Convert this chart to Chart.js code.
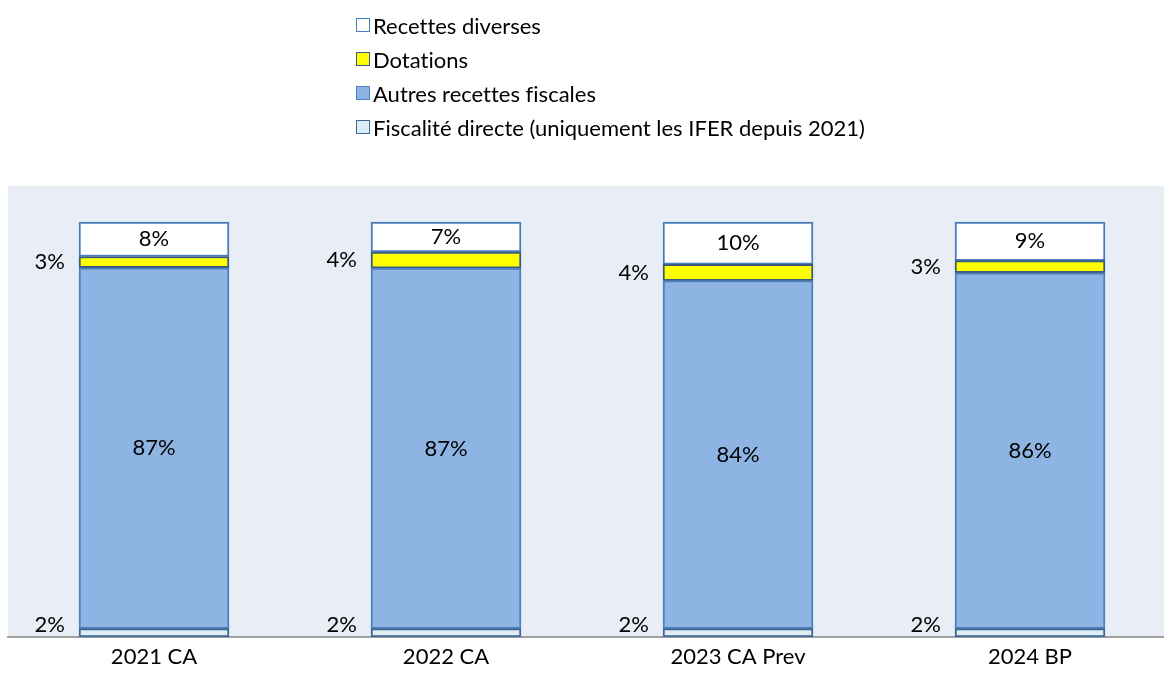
<!DOCTYPE html>
<html>
<head>
<meta charset="utf-8">
<script src="https://cdn.jsdelivr.net/npm/chart.js@4.4.1/dist/chart.umd.min.js"></script>
<style>
    body { margin: 0; overflow: hidden; background: #fff; font-family: Lato, sans-serif; }
    #wrap { position: relative; width: 1180px; height: 682px; }
    #legend { position: absolute; left: 356px; top: 8px; }
    .item { height: 34px; display: flex; align-items: center; font-size: 22px; color: #000;
            font-variant-ligatures: none; }
    .box { width: 12px; height: 12px; border: 1.5px solid; margin-right: 3px; }
</style>
</head>
<body>
<div id="wrap">
    <div id="legend"></div>
    <canvas id="recettesChart" width="1180" height="682"></canvas>
</div>
<script>
const categories = ['2021 CA', '2022 CA', '2023 CA Prev', '2024 BP'];
const fiscaliteDirecte = [2.0, 2.0, 2.0, 2.0];
const autresRecettes = [87.0, 86.9, 83.9, 85.8];
const dotations = [2.7, 3.9, 3.9, 2.9];
const recettesDiverses = [8.3, 7.2, 10.2, 9.3];

const font = { family: 'Lato, sans-serif', size: 22 };

// fond de la zone de tracé
const plotBackground = {
    id: 'plotBackground',
    beforeDraw: (chart) => {
        const { ctx, chartArea } = chart;
        ctx.save();
        ctx.fillStyle = '#E9EDF5';
        ctx.fillRect(chartArea.left, chartArea.top, chartArea.right - chartArea.left, chartArea.bottom - chartArea.top);
        ctx.restore();
    }
};

// étiquettes en % : dans la barre si assez grand, sinon à gauche
const segmentLabels = {
    id: 'segmentLabels',
    afterDatasetsDraw: (chart) => {
        const { ctx, chartArea } = chart;
        ctx.save();
        ctx.font = font.size + 'px ' + font.family;
        ctx.fillStyle = '#000';
        ctx.textBaseline = 'middle';
        chart.data.datasets.forEach((ds, i) => {
            chart.getDatasetMeta(i).data.forEach((bar, j) => {
                const value = ds.data[j];
                const text = Math.round(value) + '%';
                let y = (bar.y + bar.base) / 2;
                if (value >= 5) {
                    ctx.textAlign = 'center';
                    ctx.fillText(text, bar.x, y);
                } else {
                    y = Math.min(y, chartArea.bottom - 12);
                    ctx.textAlign = 'right';
                    ctx.fillText(text, bar.x - bar.width / 2 - 14, y);
                }
            });
        });
        ctx.restore();
    }
};

const ctx = document.getElementById('recettesChart').getContext('2d');
const chart = new Chart(ctx, {
    type: 'bar',
    data: {
        labels: categories,
        datasets: [
            { label: 'Fiscalité directe (uniquement les IFER depuis 2021)', data: fiscaliteDirecte,
              backgroundColor: '#DCEEF4', borderColor: '#3F6797' },
            { label: 'Autres recettes fiscales', data: autresRecettes,
              backgroundColor: '#8EB4E3', borderColor: '#4F81BD' },
            { label: 'Dotations', data: dotations,
              backgroundColor: '#FFFF00', borderColor: '#3B5A80' },
            { label: 'Recettes diverses', data: recettesDiverses,
              backgroundColor: '#FFFFFF', borderColor: '#4A7EBB' }
        ]
    },
    options: {
        responsive: false,
        animation: false,
        datasets: {
            bar: { barThickness: 150, borderWidth: 2, borderSkipped: false }
        },
        layout: { padding: { left: 8, right: 4, top: 186, bottom: 0 } },
        plugins: {
            legend: { display: false },
            tooltip: { enabled: false }
        },
        scales: {
            x: {
                stacked: true,
                grid: { display: false, drawTicks: false },
                border: { display: true, color: '#A0A0A0', width: 2 },
                ticks: { color: '#000', font: font, padding: 7 },
                afterFit: (scale) => { scale.height = 45; }
            },
            y: {
                stacked: true,
                display: false,
                min: 0,
                max: 108.7
            }
        }
    },
    plugins: [plotBackground, segmentLabels]
});

// légende verticale, ordre inverse des séries
const legend = document.getElementById('legend');
chart.data.datasets.slice().reverse().forEach((ds) => {
    const row = document.createElement('div');
    row.className = 'item';
    const box = document.createElement('span');
    box.className = 'box';
    box.style.background = ds.backgroundColor;
    box.style.borderColor = ds.borderColor;
    row.appendChild(box);
    row.appendChild(document.createTextNode(ds.label));
    legend.appendChild(row);
});
</script>
</body>
</html>
